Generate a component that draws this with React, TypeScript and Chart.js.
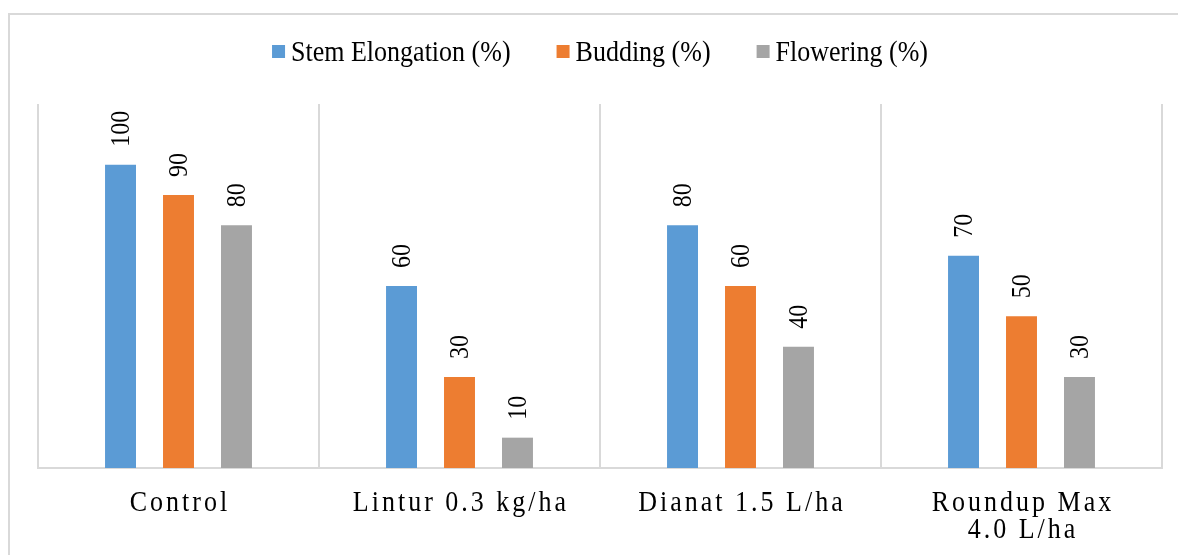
import React, { useEffect, useRef } from "react";
import { Chart, registerables } from "chart.js";

Chart.register(...registerables);

const categoryLabels: string[][] = [
  ["Control"],
  ["Lintur 0.3 kg/ha"],
  ["Dianat 1.5 L/ha"],
  ["Roundup Max", "4.0 L/ha"],
];
const seriesNames = ["Stem Elongation (%)", "Budding (%)", "Flowering (%)"];
const stemElongation = [100, 60, 80, 70];
const budding = [90, 30, 60, 50];
const flowering = [80, 10, 40, 30];
const seriesColors = ["#5B9BD5", "#ED7D31", "#A5A5A5"];
const yMin = 0;
const yMax = 120;

const FONT = '"Liberation Serif", "Times New Roman", serif';
const STRETCH = 1.1;

function drawText(ctx: CanvasRenderingContext2D, text: string, x: number, y: number) {
  ctx.save();
  ctx.translate(x, y);
  ctx.scale(1, STRETCH);
  ctx.fillText(text, 0, 0);
  ctx.restore();
}

const textPlugin = {
  id: "customText",
  afterDraw(chart: any) {
    const ctx: CanvasRenderingContext2D = chart.ctx;
    const area = chart.chartArea;

    // Legend
    ctx.save();
    ctx.font = `26px ${FONT}`;
    ctx.textBaseline = "middle";
    ctx.textAlign = "left";
    const box = 13;
    const gapBoxText = 6;
    const gapItems = 46;
    const widths = seriesNames.map((n) => ctx.measureText(n).width);
    let total = 0;
    widths.forEach((w, i) => {
      total += box + gapBoxText + w + (i < widths.length - 1 ? gapItems : 0);
    });
    let lx = (area.left + area.right) / 2 - total / 2;
    const ly = 38;
    seriesNames.forEach((n, i) => {
      ctx.fillStyle = seriesColors[i];
      ctx.fillRect(lx, ly - 8, box, box);
      ctx.fillStyle = "#000";
      drawText(ctx, n, lx + box + gapBoxText, ly);
      lx += box + gapBoxText + widths[i] + gapItems;
    });
    ctx.restore();

    // Data labels (rotated)
    ctx.save();
    ctx.font = `24px ${FONT}`;
    ctx.fillStyle = "#000";
    chart.data.datasets.forEach((ds: any, i: number) => {
      const meta = chart.getDatasetMeta(i);
      meta.data.forEach((bar: any, j: number) => {
        ctx.save();
        ctx.translate(bar.x + 2, bar.y - 18);
        ctx.rotate(-Math.PI / 2);
        ctx.scale(1, STRETCH);
        ctx.textAlign = "left";
        ctx.textBaseline = "middle";
        ctx.fillText(String(ds.data[j]), 0, 0);
        ctx.restore();
      });
    });
    ctx.restore();

    // Category labels (letter-spaced)
    ctx.save();
    ctx.font = `26px ${FONT}`;
    ctx.fillStyle = "#000";
    ctx.textAlign = "center";
    ctx.textBaseline = "alphabetic";
    (ctx as any).letterSpacing = "3px";
    const xs = chart.scales.x;
    categoryLabels.forEach((lines, j) => {
      const x = xs.getPixelForValue(j);
      lines.forEach((line, k) => {
        drawText(ctx, line, x + 1.5, area.bottom + 43 + k * 27);
      });
    });
    ctx.restore();
  },
};

export default function App() {
  const canvasRef = useRef<HTMLCanvasElement | null>(null);

  useEffect(() => {
    if (!canvasRef.current) return;
    const chart = new Chart(canvasRef.current, {
      type: "bar",
      data: {
        labels: categoryLabels,
        datasets: [
          { label: seriesNames[0], data: stemElongation, backgroundColor: seriesColors[0] },
          { label: seriesNames[1], data: budding, backgroundColor: seriesColors[1] },
          { label: seriesNames[2], data: flowering, backgroundColor: seriesColors[2] },
        ],
      },
      options: {
        animation: false,
        responsive: true,
        maintainAspectRatio: false,
        layout: { padding: { left: 28, right: 16, top: 89, bottom: 87 } },
        datasets: {
          bar: { categoryPercentage: 0.619, barPercentage: 0.534 },
        },
        plugins: {
          legend: { display: false },
          tooltip: { enabled: false },
        },
        scales: {
          x: {
            display: true,
            grid: {
              display: true,
              offset: true,
              color: "#d9d9d9",
              lineWidth: 2,
              drawTicks: false,
            },
            border: { display: true, color: "#d9d9d9", width: 2 },
            ticks: { display: false },
            afterFit: (scale: any) => {
              scale.height = 0;
            },
          },
          y: {
            display: false,
            min: yMin,
            max: yMax,
          },
        },
      },
      plugins: [textPlugin],
    });
    return () => chart.destroy();
  }, []);

  return (
    <div
      style={{
        position: "fixed",
        left: 8,
        top: 13,
        width: 1168,
        height: 540,
        borderTop: "2px solid #d9d9d9",
        borderLeft: "2px solid #d9d9d9",
        background: "#fff",
      }}
    >
      <div style={{ position: "relative", width: 1168, height: 540 }}>
        <canvas ref={canvasRef} />
      </div>
    </div>
  );
}
